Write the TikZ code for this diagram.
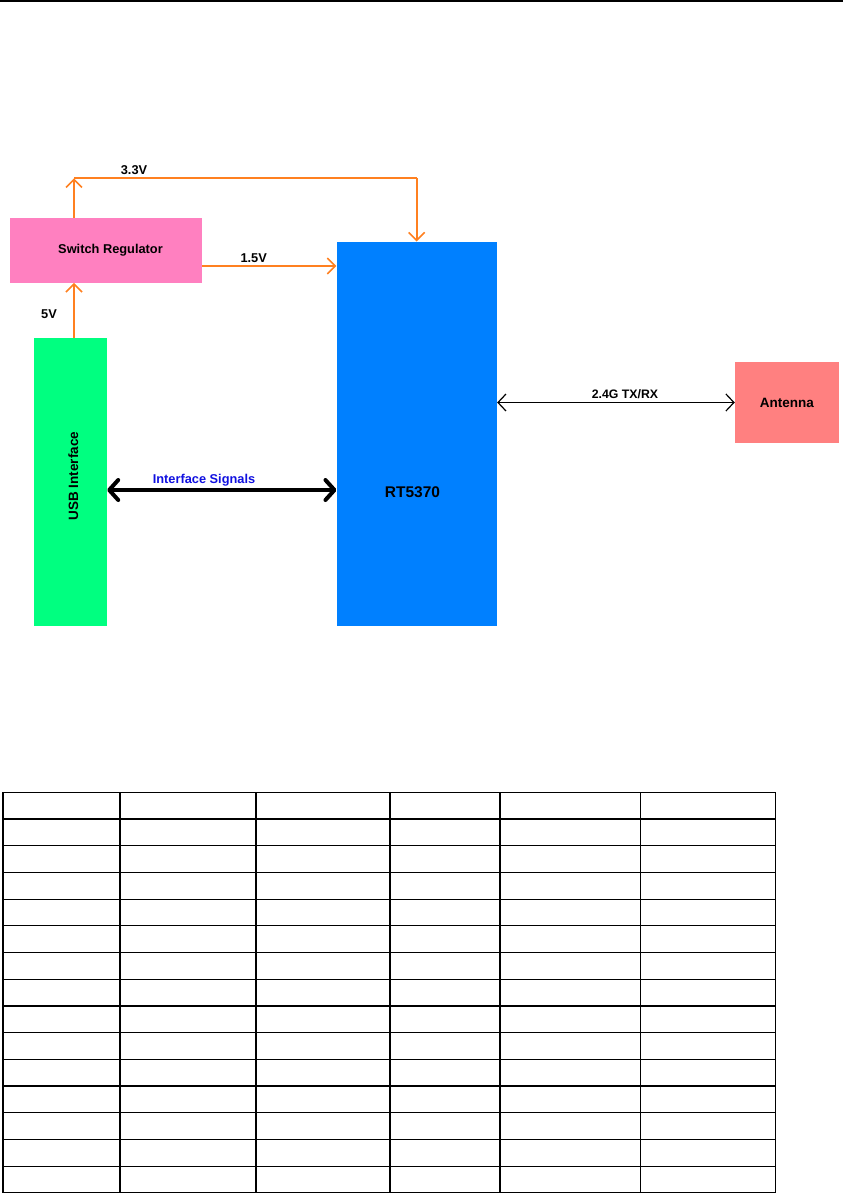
\documentclass[tikz,border=0pt]{standalone}
\usepackage{fontspec}
\setmainfont{Liberation Sans}
\usetikzlibrary{arrows.meta}
\definecolor{usbgreen}{RGB}{0,255,128}
\definecolor{swpink}{RGB}{255,128,192}
\definecolor{rtblue}{RGB}{0,128,255}
\definecolor{antred}{RGB}{255,128,128}
\definecolor{pworange}{RGB}{255,128,32}
\definecolor{sigblue}{RGB}{16,16,224}
\tikzset{
  blockbox/.style={draw=none, inner sep=0pt, font=\bfseries\fontsize{12.8}{15}\selectfont},
  lbl/.style={inner sep=0pt, font=\bfseries\fontsize{12.8}{15}\selectfont},
  pw/.style={draw=pworange, line width=1.8pt, -{Straight Barb[length=8pt,width=16pt,line width=1.6pt]}},
  pwline/.style={draw=pworange, line width=1.8pt},
  rf/.style={draw=black, line width=1pt, {Straight Barb[length=8pt,width=17pt,line width=1.2pt]}-{Straight Barb[length=8pt,width=17pt,line width=1.2pt]}},
  bus/.style={draw=black, line width=4pt, {Straight Barb[length=9pt,width=20pt,round]}-{Straight Barb[length=9pt,width=20pt,round]}},
  grid/.style={draw=black, line width=1.2pt}
}
\begin{document}
\begin{tikzpicture}[x=1pt,y=-1pt]
\useasboundingbox (0,0) rectangle (846,1194);
% top rule
\draw[line width=1.5pt] (0,1) -- (843,1);
% blocks
\node[blockbox, fill=swpink, minimum width=192pt, minimum height=65pt] (sw) at (106,250.2) {\hspace*{9pt}Switch Regulator};
\node[blockbox, fill=usbgreen, minimum width=73pt, minimum height=288pt] (usb) at (70.5,482) {};
\node[lbl, rotate=90, font=\bfseries\fontsize{13.5}{16}\selectfont] (usbt) at (73.3,476) {USB Interface};
\node[blockbox, fill=rtblue, minimum width=160.3pt, minimum height=384pt] (rt) at (416.8,433.7) {};
\node[lbl, font=\bfseries\fontsize{15.5}{18}\selectfont] (rtt) at (412.5,491.7) {RT5370};
\node[blockbox, fill=antred, minimum width=103.7pt, minimum height=80.4pt, font=\bfseries\fontsize{13.5}{16}\selectfont] (ant) at (786.8,402.5) {Antenna};
% helper coordinates
\coordinate (x74) at (74,0);
\coordinate (c33l) at (74,178.3);
\coordinate (c33r) at (416.7,178.3);
\coordinate (y15) at (0,266);
\coordinate (ybus) at (0,490);
% power connectors
\draw[pw] (usb.north -| x74) -- (sw.south -| x74);
\draw[pw] (sw.north -| x74) -- (c33l);
\draw[pwline] (c33l) -- (c33r);
\draw[pw] (c33r) -- (rt.north -| c33r);
\draw[pw] (sw.east |- y15) -- (rt.west |- y15);
% signal connectors
\draw[rf] (rt.east |- ant.west) -- (ant.west);
\draw[bus] (usb.east |- ybus) -- (rt.west |- ybus);
% labels
\node[lbl] (l33) at (134,170) {3.3V};
\node[lbl] (l15) at (253.7,258) {1.5V};
\node[lbl] (l5) at (49,314) {5V};
\node[lbl, font=\bfseries\fontsize{12.3}{15}\selectfont] (lrf) at (625,394) {2.4G TX/RX};
\node[lbl, text=sigblue] (lbus) at (204,480.7) {Interface Signals};
% table
\foreach \cx in {3,120,256,390,500,640.5,775.3}
  \draw[grid] (\cx,792.3) -- (\cx,1192.8);
\foreach \k in {0,...,15}
  \draw[grid] (3,792.3+26.7*\k) -- (775.3,792.3+26.7*\k);
\end{tikzpicture}
\end{document}
